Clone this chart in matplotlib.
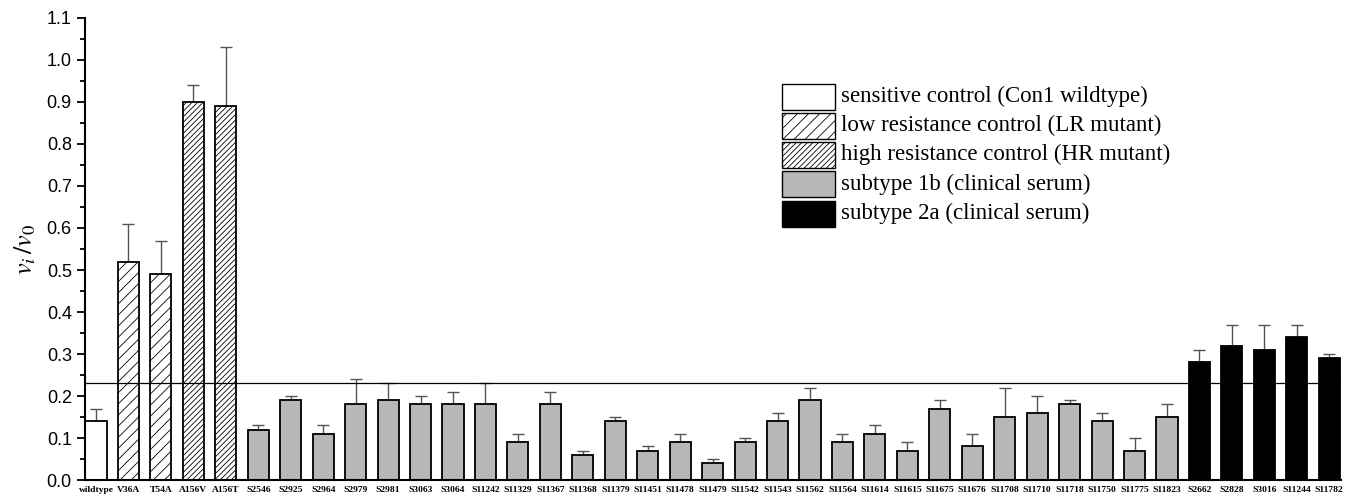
import matplotlib
matplotlib.use("Agg")
import matplotlib.pyplot as plt
from matplotlib.patches import Patch
from matplotlib.legend_handler import HandlerPatch
from matplotlib.ticker import MultipleLocator

plt.rcParams['hatch.linewidth'] = 0.6
plt.rcParams['mathtext.fontset'] = 'stix'

# samples, in plotting order
labels = ["wildtype", "V36A", "T54A", "A156V", "A156T",
          "S2546", "S2925", "S2964", "S2979", "S2981", "S3063", "S3064",
          "S11242", "S11329", "S11367", "S11368", "S11379", "S11451", "S11478",
          "S11479", "S11542", "S11543", "S11562", "S11564", "S11614", "S11615",
          "S11675", "S11676", "S11708", "S11710", "S11718", "S11750", "S11775",
          "S11823",
          "S2662", "S2828", "S3016", "S11244", "S11782"]

ratio = [0.14, 0.52, 0.49, 0.90, 0.89,
         0.12, 0.19, 0.11, 0.18, 0.19, 0.18, 0.18,
         0.18, 0.09, 0.18, 0.06, 0.14, 0.07, 0.09,
         0.04, 0.09, 0.14, 0.19, 0.09, 0.11, 0.07,
         0.17, 0.08, 0.15, 0.16, 0.18, 0.14, 0.07,
         0.15,
         0.28, 0.32, 0.31, 0.34, 0.29]

err = [0.03, 0.09, 0.08, 0.04, 0.14,
       0.01, 0.01, 0.02, 0.06, 0.04, 0.02, 0.03,
       0.05, 0.02, 0.03, 0.01, 0.01, 0.01, 0.02,
       0.01, 0.01, 0.02, 0.03, 0.02, 0.02, 0.02,
       0.02, 0.03, 0.07, 0.04, 0.01, 0.02, 0.03,
       0.03,
       0.03, 0.05, 0.06, 0.03, 0.01]

# group index per bar: 0 wt, 1 LR, 2 HR, 3 1b, 4 2a
groups = [0, 1, 1, 2, 2] + [3] * 29 + [4] * 5

group_names = ["sensitive control (Con1 wildtype)",
               "low resistance control (LR mutant)",
               "high resistance control (HR mutant)",
               "subtype 1b (clinical serum)",
               "subtype 2a (clinical serum)"]
group_face = ["white", "white", "white", "#b7b7b7", "black"]
group_hatch = [None, "///", "//////", None, None]

threshold = 0.23

fig = plt.figure(figsize=(13.49, 4.98), dpi=100)
ax = fig.add_axes([0.063, 0.036, 0.931, 0.928])

x = list(range(len(labels)))
for i in x:
    g = groups[i]
    ax.bar(i, ratio[i], width=0.65, color=group_face[g], edgecolor="black",
           linewidth=1.3, hatch=group_hatch[g], zorder=2)
ax.errorbar(x, ratio, yerr=[[0] * len(err), err], fmt="none", ecolor="#555555",
            elinewidth=1.0, capsize=4, capthick=1.0, zorder=1)

ax.axhline(threshold, color="black", linewidth=0.9, zorder=3)

ax.set_xlim(-0.34, len(labels) - 0.64)
ax.set_ylim(0, 1.1)
ax.yaxis.set_major_locator(MultipleLocator(0.1))
ax.yaxis.set_minor_locator(MultipleLocator(0.05))
ax.set_yticklabels([f"{v:.1f}" for v in ax.get_yticks()], fontsize=13,
                   family="Liberation Sans")
ax.tick_params(axis="y", which="major", length=6, width=1.3)
ax.tick_params(axis="y", which="minor", length=3.5, width=1.3)

ax.set_xticks(x)
ax.set_xticklabels(labels, fontsize=6.8, family="Liberation Serif", fontweight="bold")
ax.tick_params(axis="x", length=0, pad=4)

for s in ["top", "right"]:
    ax.spines[s].set_visible(False)
for s in ["left", "bottom"]:
    ax.spines[s].set_linewidth(1.5)

ax.set_ylabel(r"$v_i\,/v_0$", fontsize=19, labelpad=6)

handles = [Patch(facecolor=group_face[g], edgecolor="black", linewidth=1.0,
                 hatch=group_hatch[g], label=group_names[g]) for g in range(5)]
leg = ax.legend(handles=handles, loc="upper left", bbox_to_anchor=(0.548, 0.877),
                frameon=False, prop={"family": "Liberation Serif", "size": 16.5},
                handlelength=2.3, handleheight=1.0, handletextpad=0.25,
                labelspacing=0.265, borderaxespad=0,
                handler_map={Patch: HandlerPatch(ypad=-0.236)})

fig.savefig("out.png", dpi=100)
